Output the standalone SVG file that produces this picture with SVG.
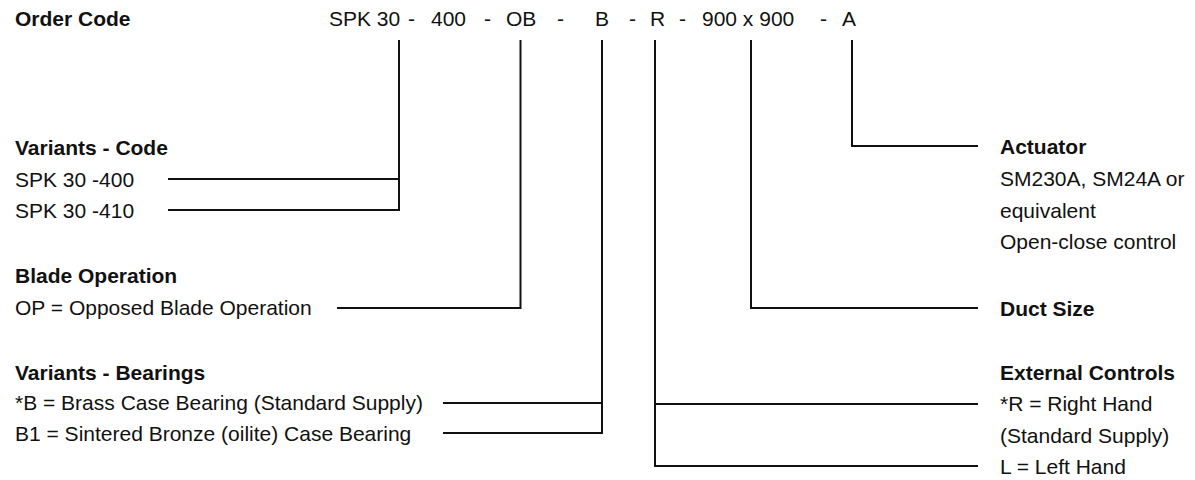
<svg xmlns="http://www.w3.org/2000/svg" width="1195" height="480" viewBox="0 0 1195 480">
<style>
text{font-family:"Liberation Sans",Arial,sans-serif;font-size:21px;fill:#111}
.b{font-weight:bold}
.c line,.c polyline{stroke:#111;stroke-width:2;fill:none}
</style>
<rect width="1195" height="480" fill="#fff"/>
<g id="header">
<text class="b" x="15" y="26">Order Code</text>
<text x="329" y="26">SPK 30</text>
<text x="408" y="26">-</text>
<text x="431" y="26">400</text>
<text x="484" y="26">-</text>
<text x="506" y="26">OB</text>
<text x="557" y="26">-</text>
<text x="595" y="26">B</text>
<text x="629" y="26">-</text>
<text x="650" y="26">R</text>
<text x="679" y="26">-</text>
<text x="702" y="26">900 x 900</text>
<text x="820" y="26">-</text>
<text x="842" y="26">A</text>
</g>
<g id="variants-code">
<text class="b" x="15" y="155">Variants - Code</text>
<text x="15" y="187">SPK 30 -400</text>
<text x="15" y="218">SPK 30 -410</text>
</g>
<g id="blade-operation">
<text class="b" x="15" y="283">Blade Operation</text>
<text x="15" y="315">OP = Opposed Blade Operation</text>
</g>
<g id="variants-bearings">
<text class="b" x="15" y="380">Variants - Bearings</text>
<text x="15" y="410">*B = Brass Case Bearing (Standard Supply)</text>
<text x="15" y="441">B1 = Sintered Bronze (oilite) Case Bearing</text>
</g>
<g id="actuator">
<text class="b" x="1000" y="154">Actuator</text>
<text x="1000" y="186">SM230A, SM24A or</text>
<text x="1000" y="218">equivalent</text>
<text x="1000" y="249">Open-close control</text>
</g>
<g id="duct-size">
<text class="b" x="1000" y="316">Duct Size</text>
</g>
<g id="external-controls">
<text class="b" x="1000" y="380">External Controls</text>
<text x="1000" y="411">*R = Right Hand</text>
<text x="1000" y="443">(Standard Supply)</text>
<text x="1000" y="474">L = Left Hand</text>
</g>
<g id="connectors" class="c">
<polyline points="399,40 399,210 168,210"/>
<line x1="168" y1="179" x2="399" y2="179"/>
<polyline points="520.5,40 520.5,308 337,308"/>
<polyline points="602,40 602,433 443,433"/>
<line x1="443" y1="403" x2="602" y2="403"/>
<polyline points="655,40 655,466 978,466"/>
<line x1="655" y1="404" x2="978" y2="404"/>
<polyline points="751,40 751,308 978,308"/>
<polyline points="852,40 852,146 978,146"/>
</g>
</svg>
